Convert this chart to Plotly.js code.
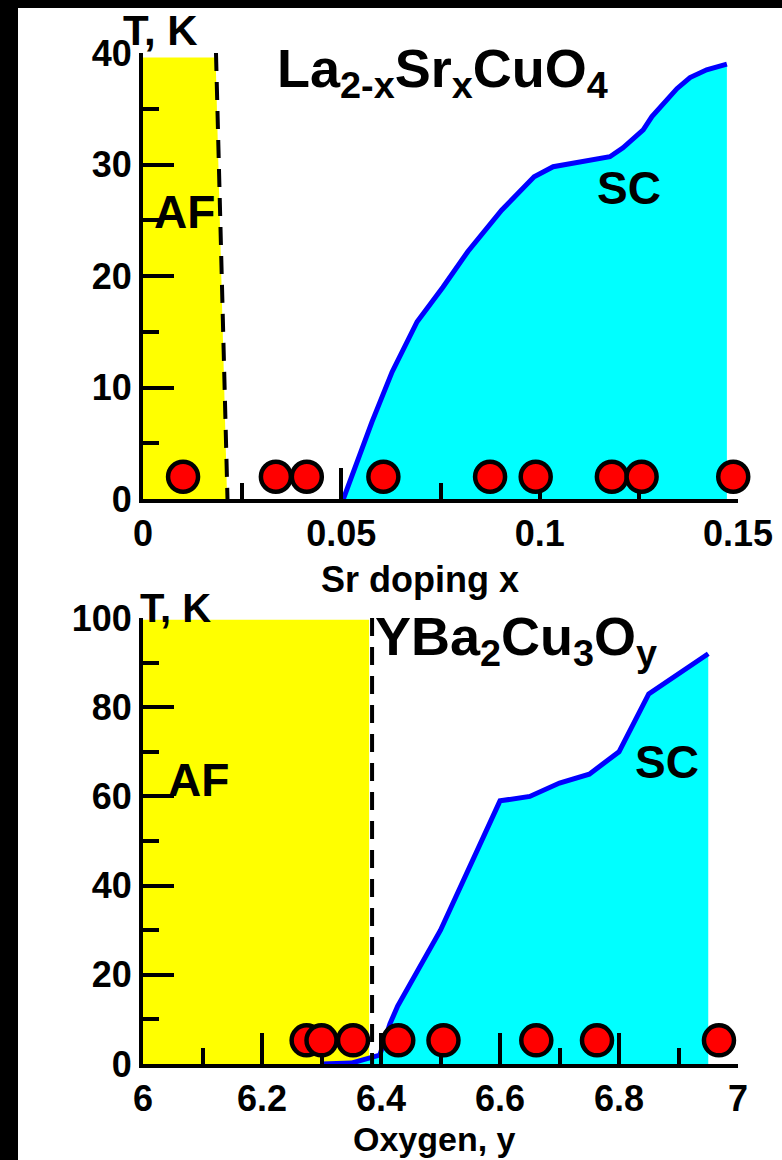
<!DOCTYPE html>
<html><head><meta charset="utf-8">
<script src="https://cdn.plot.ly/plotly-3.0.1.min.js"></script>
<style>
html,body{margin:0;padding:0;background:#000;width:782px;height:1160px;overflow:hidden}
#chart{position:absolute;left:18px;top:8px;width:764px;height:1152px;background:#fff}
</style></head><body><div id="chart"></div>
<script>
// ---- La2-xSrxCuO4 panel ----
const lscoScX = [0.0505, 0.0577, 0.0628, 0.0691, 0.0756, 0.0819, 0.0904, 0.0986, 0.1034, 0.1177, 0.1210, 0.1261, 0.1283, 0.1346, 0.1379, 0.1421, 0.1472];
const lscoScT = [0, 6.9, 11.4, 15.9, 19.0, 22.2, 25.9, 28.9, 29.8, 30.7, 31.5, 33.1, 34.3, 36.8, 37.8, 38.5, 39.0];
const lscoAfX = [0, 0, 0.0183, 0.0212];
const lscoAfT = [0, 39.6, 39.6, 0];
const lscoAfBorderX = [0.0184, 0.0213];
const lscoAfBorderT = [40, 0];
const lscoSampleX = [0.0101, 0.0335, 0.0413, 0.0606, 0.0875, 0.0990, 0.1182, 0.1257, 0.1488];
const lscoSampleT = [2, 2, 2, 2, 2, 2, 2, 2, 2];

// ---- YBa2Cu3Oy panel ----
const ybcoScX = [6.30, 6.35, 6.398, 6.415, 6.428, 6.50, 6.60, 6.65, 6.70, 6.75, 6.80, 6.85, 6.95];
const ybcoScT = [0, 0.2, 2, 9, 13, 30, 59, 60, 63, 65, 70, 83, 92];
const ybcoAfX = [6, 6, 6.38, 6.38];
const ybcoAfT = [0, 99.6, 99.6, 0];
const ybcoAfBorderX = [6.385, 6.385];
const ybcoAfBorderT = [100, 0];
const ybcoSampleX = [6.275, 6.300, 6.353, 6.429, 6.505, 6.661, 6.763, 6.968];
const ybcoSampleT = [5.3, 5.3, 5.3, 5.3, 5.3, 5.3, 5.3, 5.3];

const F = 'Liberation Sans, Arial, sans-serif';
const RED = '#ff0000', BLUE = '#0000ff', CYAN = '#00ffff', YEL = '#ffff00';

function afTrace(x, y, xa, ya) {
  return {x: x, y: y, xaxis: xa, yaxis: ya, type: 'scatter', mode: 'lines', fill: 'toself',
    fillcolor: YEL, line: {width: 0, color: YEL}, hoverinfo: 'skip', showlegend: false};
}
function scTrace(x, y, xa, ya) {
  return {x: x, y: y, xaxis: xa, yaxis: ya, type: 'scatter', mode: 'lines', fill: 'tozeroy',
    fillcolor: CYAN, line: {width: 5, color: BLUE}, showlegend: false};
}
function dashTrace(x, y, xa, ya) {
  return {x: x, y: y, xaxis: xa, yaxis: ya, type: 'scatter', mode: 'lines',
    line: {width: 4, color: '#000', dash: '18px,11px'}, showlegend: false};
}
function sampleTrace(x, y, xa, ya) {
  return {x: x, y: y, xaxis: xa, yaxis: ya, type: 'scatter', mode: 'markers', cliponaxis: false,
    marker: {size: 30, color: RED, line: {width: 4.5, color: '#000'}}, showlegend: false};
}

const data = [
  afTrace(lscoAfX, lscoAfT, 'x', 'y'),
  scTrace(lscoScX, lscoScT, 'x', 'y'),
  dashTrace(lscoAfBorderX, lscoAfBorderT, 'x', 'y'),
  afTrace(ybcoAfX, ybcoAfT, 'x2', 'y2'),
  scTrace(ybcoScX, ybcoScT, 'x2', 'y2'),
  dashTrace(ybcoAfBorderX, ybcoAfBorderT, 'x2', 'y2'),
  // sample markers on twin (invisible) subplots so they sit above the tick marks
  sampleTrace(lscoSampleX, lscoSampleT, 'x3', 'y3'),
  sampleTrace(ybcoSampleX, ybcoSampleT, 'x4', 'y4')
];

function ax(extra, minorDtick) {
  return Object.assign({
    showline: true, linecolor: '#000', linewidth: 4,
    ticks: 'inside', ticklen: 31, tickwidth: 4, tickcolor: '#000',
    showgrid: false, zeroline: false,
    tickfont: {size: 36, color: '#000', family: F, weight: 'bold'},
    minor: {ticks: 'inside', ticklen: 16, tickwidth: 4, tickcolor: '#000', dtick: minorDtick, showgrid: false}
  }, extra);
}
function twin(extra) {
  return Object.assign({visible: false, showgrid: false, zeroline: false, fixedrange: true}, extra);
}

// page pixel -> paper coords (div offset 18,8; plot area l=125, w=595, t=45, h=1011)
function P(px, py) { return {x: (px - 18 - 125) / 595, y: (1056 - (py - 8)) / 1011}; }
function ann(text, px, py, size) {
  const p = P(px, py);
  return {text: text, x: p.x, y: p.y, xref: 'paper', yref: 'paper', xanchor: 'center', yanchor: 'middle',
    showarrow: false, font: {family: F, size: size, color: '#000', weight: 'bold'}};
}

const topDom = [0.5588, 1], botDom = [0, 0.4411];
const layout = {
  width: 764, height: 1152,
  margin: {l: 125, r: 44, t: 45, b: 96},
  paper_bgcolor: '#fff', plot_bgcolor: 'rgba(0,0,0,0)',
  font: {family: F, color: '#000', weight: 'bold'},
  showlegend: false,
  xaxis: ax({anchor: 'y', domain: [0, 1], range: [0, 0.15], tick0: 0, dtick: 0.05}, 0.025),
  yaxis: ax({anchor: 'x', domain: topDom, range: [0, 40], tick0: 0, dtick: 10}, 5),
  xaxis2: ax({anchor: 'y2', domain: [0, 1], range: [6, 7], tick0: 6, dtick: 0.2}, 0.1),
  yaxis2: ax({anchor: 'x2', domain: botDom, range: [0, 100], tick0: 0, dtick: 20}, 10),
  xaxis3: twin({anchor: 'y3', domain: [0, 1], range: [0, 0.15]}),
  yaxis3: twin({anchor: 'x3', domain: topDom, range: [0, 40]}),
  xaxis4: twin({anchor: 'y4', domain: [0, 1], range: [6, 7]}),
  yaxis4: twin({anchor: 'x4', domain: botDom, range: [0, 100]}),
  annotations: [
    ann('T, K', 160, 30, 42),
    ann('La<sub>2-x</sub>Sr<sub>x</sub>CuO<sub>4</sub>', 442, 72, 54),
    ann('SC', 629, 188, 46),
    ann('AF', 184, 212, 46),
    ann('Sr doping x', 420, 579, 36),
    ann('T, K', 175, 608, 40),
    ann('YBa<sub>2</sub>Cu<sub>3</sub>O<sub>y</sub>', 516, 640, 54),
    ann('SC', 667, 762, 46),
    ann('AF', 198, 780, 46),
    ann('Oxygen, y', 434, 1139, 34)
  ]
};

Plotly.newPlot('chart', data, layout, {displayModeBar: false, staticPlot: true});
</script></body></html>
